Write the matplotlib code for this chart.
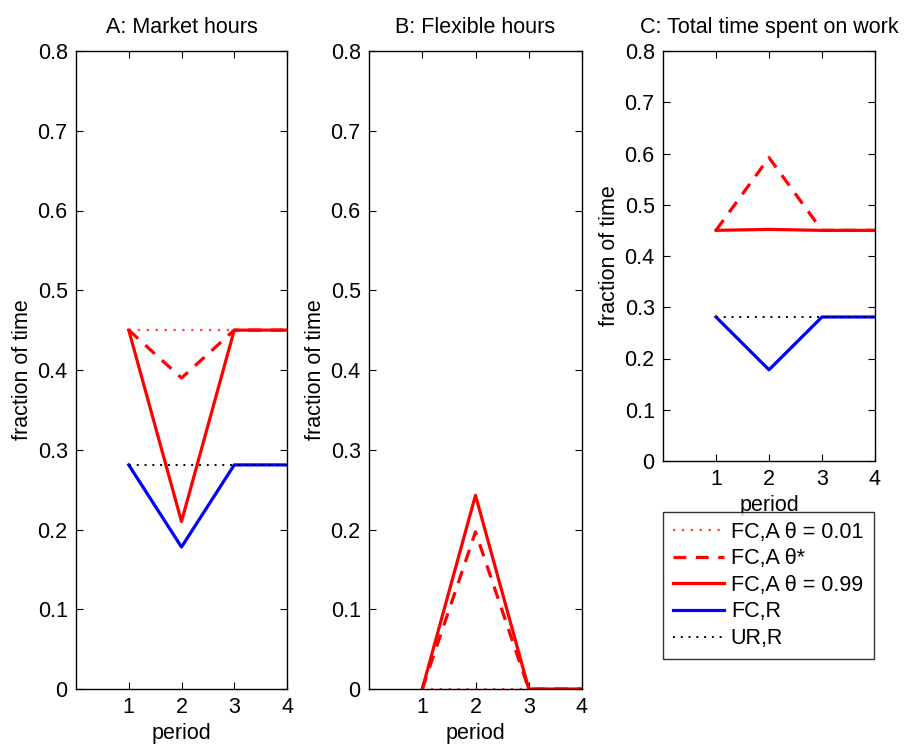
import numpy as np
import matplotlib
matplotlib.use("Agg")
import matplotlib.pyplot as plt

plt.rcParams['font.family'] = ['Liberation Sans', 'DejaVu Sans']
FS = 15.5

# data
period = [1, 2, 3, 4]

# A: market hours
mkt_theta_low = [0.45, 0.45, 0.45, 0.45]
mkt_theta_star = [0.45, 0.39, 0.45, 0.45]
mkt_theta_high = [0.45, 0.21, 0.45, 0.45]
mkt_fc_r = [0.281, 0.178, 0.281, 0.281]
mkt_ur_r = [0.281, 0.281, 0.281, 0.281]

# B: flexible hours
flex_theta_low = [0, 0, 0, 0]
flex_theta_star = [0, 0.197, 0, 0]
flex_theta_high = [0, 0.243, 0, 0]

# C: total time spent on work
tot_theta_low = [0.45, 0.45, 0.45, 0.45]
tot_theta_star = [0.45, 0.592, 0.45, 0.45]
tot_theta_high = [0.45, 0.452, 0.45, 0.45]
tot_fc_r = [0.281, 0.178, 0.281, 0.281]
tot_ur_r = [0.281, 0.281, 0.281, 0.281]

titles = ['A: Market hours', 'B: Flexible hours', 'C: Total time spent on work']
legend_labels = ['FC,A θ = 0.01', 'FC,A θ*', 'FC,A θ = 0.99', 'FC,R', 'UR,R']
yticks = [0, 0.1, 0.2, 0.3, 0.4, 0.5, 0.6, 0.7, 0.8]
ytick_labels = ['0', '0.1', '0.2', '0.3', '0.4', '0.5', '0.6', '0.7', '0.8']
xticks = [1, 2, 3, 4]
xtick_labels = ['1', '2', '3', '4']

W, H = 909, 749
fig = plt.figure(figsize=(W / 100, H / 100), dpi=100)


def box(x0, x1, ytop, ybot):
    return [x0 / W, 1 - ybot / H, (x1 - x0) / W, (ybot - ytop) / H]


axA = fig.add_axes(box(76, 287, 51, 689))
axB = fig.add_axes(box(369, 582, 51, 689))
axC = fig.add_axes(box(663, 875, 51, 461))

lw = 2.3
low_style = dict(color='#ff4040', ls=(0, (1, 3)), lw=1.6)
star_style = dict(color='red', ls=(0, (4, 3)), lw=lw)
high_style = dict(color='red', ls='-', lw=lw)
fcr_style = dict(color='blue', ls='-', lw=lw)
urr_style = dict(color='black', ls=(0, (1, 3)), lw=1.4)

# panel A
axA.plot(period, mkt_theta_low, **low_style)
axA.plot(period, mkt_theta_star, **star_style)
axA.plot(period, mkt_theta_high, **high_style)
axA.plot(period, mkt_fc_r, **fcr_style)
axA.plot(period, mkt_ur_r, **urr_style)

# panel B
axB.plot(period, flex_theta_low, **low_style)
axB.plot(period, flex_theta_star, **star_style)
axB.plot(period, flex_theta_high, **high_style)

# panel C
hC = []
hC += axC.plot(period, tot_theta_low, **low_style)
hC += axC.plot(period, tot_theta_star, **star_style)
hC += axC.plot(period, tot_theta_high, **high_style)
hC += axC.plot(period, tot_fc_r, **fcr_style)
hC += axC.plot(period, tot_ur_r, **urr_style)

for ax, t in zip([axA, axB, axC], titles):
    ax.set_xlim(0, 4)
    ax.set_ylim(0, 0.8)
    ax.set_xticks(xticks)
    ax.set_xticklabels(xtick_labels)
    ax.set_yticks(yticks)
    ax.set_yticklabels(ytick_labels)
    ax.tick_params(direction='in', length=5, width=0.8, top=True, right=True,
                   labelsize=FS, pad=6)
    ax.set_title(t, fontsize=FS, pad=13)
    ax.set_xlabel('period', fontsize=FS, labelpad=3)
    ax.set_ylabel('fraction of time', fontsize=FS, labelpad=3)
    for s in ax.spines.values():
        s.set_linewidth(1.0)

leg = fig.legend(hC, legend_labels, loc='upper left',
                 bbox_to_anchor=(663 / W, 1 - 512 / H, 211 / W, 0.0),
                 mode='expand', fontsize=FS, frameon=True, fancybox=False,
                 handlelength=2.4, handletextpad=0.3, labelspacing=0.26,
                 borderpad=0.45, borderaxespad=0)
leg.get_frame().set_edgecolor('black')
leg.get_frame().set_linewidth(1.0)

fig.savefig('out.png', dpi=100)
